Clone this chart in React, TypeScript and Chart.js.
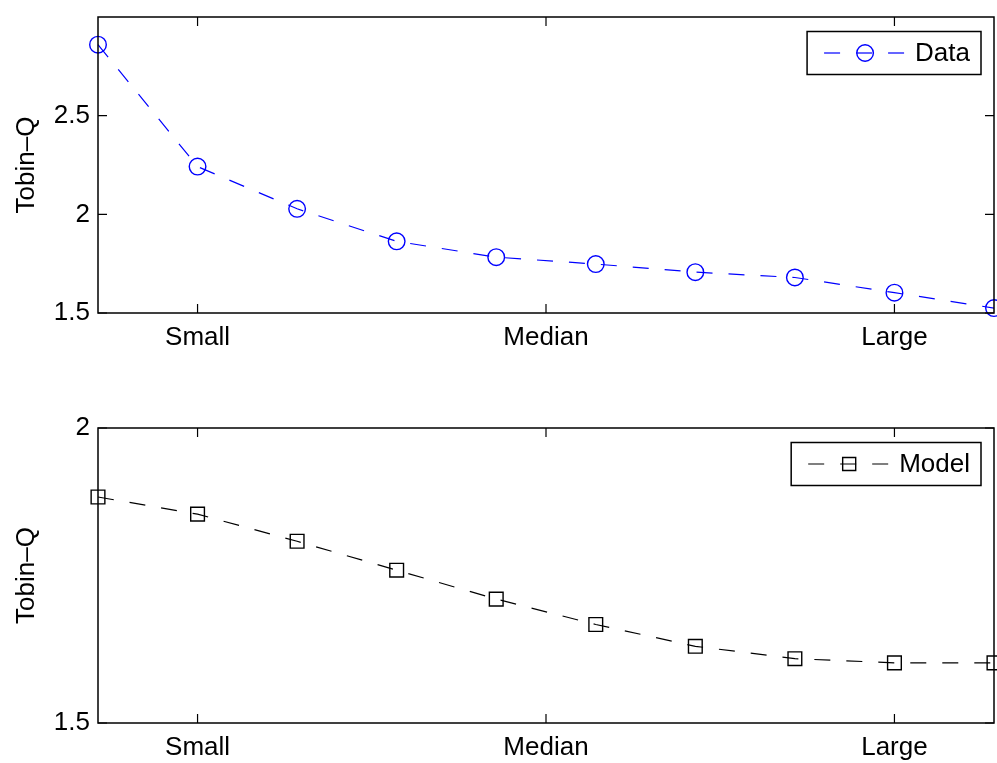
import React, { useEffect, useRef } from 'react';
import { Chart, registerables } from 'chart.js';

Chart.register(...registerables);

const positions = [1, 2, 3, 4, 5, 6, 7, 8, 9, 10];
const dataValues = [2.86, 2.242, 2.028, 1.863, 1.783, 1.748, 1.707, 1.68, 1.603, 1.525];
const modelValues = [1.883, 1.854, 1.808, 1.759, 1.71, 1.667, 1.63, 1.609, 1.602, 1.602];
const xTickValues = [2, 5.5, 9];
const xTickLabels = ['Small', 'Median', 'Large'];
const topYTicks = [1.5, 2, 2.5];
const bottomYTicks = [1.5, 2];
const yTitle = 'Tobin–Q';
const dataLabel = 'Data';
const modelLabel = 'Model';

const FONT = "'Liberation Sans', Arial, Helvetica, sans-serif";
const FONT_SIZE = 26;

const framePlugin = {
  id: 'matlabFrame',
  afterDatasetsDraw(chart: any) {
    const { ctx, chartArea } = chart;
    const xs = chart.scales.x;
    const ys = chart.scales.y;
    const { left, right, top, bottom } = chartArea;
    ctx.save();
    ctx.strokeStyle = '#000';
    ctx.lineWidth = 1.5;
    ctx.setLineDash([]);
    ctx.strokeRect(left, top, right - left, bottom - top);
    ctx.lineWidth = 1.2;
    const tl = 9;
    ctx.beginPath();
    xs.ticks.forEach((t: any) => {
      const px = xs.getPixelForValue(t.value);
      ctx.moveTo(px, bottom);
      ctx.lineTo(px, bottom - tl);
      ctx.moveTo(px, top);
      ctx.lineTo(px, top + tl);
    });
    ys.ticks.forEach((t: any) => {
      const py = ys.getPixelForValue(t.value);
      ctx.moveTo(left, py);
      ctx.lineTo(left + tl, py);
      ctx.moveTo(right, py);
      ctx.lineTo(right - tl, py);
    });
    ctx.stroke();
    ctx.restore();
  },
  afterDraw(chart: any) {
    const { ctx, chartArea } = chart;
    const ds = chart.data.datasets[0];
    ctx.save();
    ctx.font = `${FONT_SIZE}px ${FONT}`;
    const textW = ctx.measureText(ds.label).width;
    const boxRight = chartArea.right - 13;
    const textRight = boxRight - 11;
    const textLeft = textRight - textW;
    const lineRight = textLeft - 9;
    const lineLeft = lineRight - 82;
    const boxLeft = lineLeft - 17;
    const boxTop = chartArea.top + 14.5;
    const boxH = 43;
    const cy = boxTop + boxH / 2;
    ctx.fillStyle = '#fff';
    ctx.fillRect(boxLeft, boxTop, boxRight - boxLeft, boxH);
    ctx.strokeStyle = '#000';
    ctx.lineWidth = 1.5;
    ctx.strokeRect(boxLeft, boxTop, boxRight - boxLeft, boxH);
    ctx.strokeStyle = ds.borderColor;
    ctx.lineWidth = ds.borderWidth;
    ctx.setLineDash(ds.borderDash);
    ctx.beginPath();
    ctx.moveTo(lineLeft, cy);
    ctx.lineTo(lineRight, cy);
    ctx.stroke();
    ctx.setLineDash([]);
    const mx = (lineLeft + lineRight) / 2;
    ctx.lineWidth = ds.pointBorderWidth;
    ctx.beginPath();
    if (ds.pointStyle === 'rect') {
      const s = ds.pointRadius * Math.SQRT1_2 * 0.95;
      ctx.rect(mx - s, cy - s, 2 * s, 2 * s);
    } else {
      ctx.arc(mx, cy, ds.pointRadius, 0, Math.PI * 2);
    }
    ctx.stroke();
    ctx.fillStyle = '#000';
    ctx.textAlign = 'left';
    ctx.textBaseline = 'middle';
    ctx.fillText(ds.label, textLeft, cy + 1);
    ctx.restore();
  },
};

function makeConfig(values: number[], label: string, color: string, pointStyle: string, radius: number, yMin: number, yMax: number, yTicks: number[], xAxisHeight: number, topPad: number): any {
  return {
    type: 'line',
    data: {
      datasets: [
        {
          label,
          data: positions.map((x, i) => ({ x, y: values[i] })),
          borderColor: color,
          backgroundColor: 'rgba(0,0,0,0)',
          borderWidth: 1.2,
          borderDash: [16, 16],
          tension: 0,
          pointStyle,
          pointRadius: radius,
          pointBorderColor: color,
          pointBackgroundColor: 'rgba(0,0,0,0)',
          pointBorderWidth: 1.4,
          clip: false,
          fill: false,
        },
      ],
    },
    options: {
      responsive: false,
      animation: false,
      devicePixelRatio: 1,
      layout: { autoPadding: false, padding: { top: topPad, right: 3, left: 0, bottom: 0 } },
      plugins: { legend: { display: false }, tooltip: { enabled: false }, title: { display: false } },
      scales: {
        x: {
          type: 'linear',
          min: 1,
          max: 10,
          grid: { display: false, drawTicks: false },
          border: { display: false },
          afterBuildTicks: (scale: any) => {
            scale.ticks = xTickValues.map((v) => ({ value: v }));
          },
          afterFit: (scale: any) => {
            scale.height = xAxisHeight;
            scale.paddingLeft = 0;
            scale.paddingRight = 0;
          },
          ticks: {
            autoSkip: false,
            maxRotation: 0,
            padding: 9,
            color: '#000',
            font: { family: FONT, size: FONT_SIZE },
            callback: (v: number) => {
              const i = xTickValues.indexOf(v);
              return i >= 0 ? xTickLabels[i] : '';
            },
          },
        },
        y: {
          type: 'linear',
          min: yMin,
          max: yMax,
          grid: { display: false, drawTicks: false },
          border: { display: false },
          afterBuildTicks: (scale: any) => {
            scale.ticks = yTicks.map((v) => ({ value: v }));
          },
          afterFit: (scale: any) => {
            scale.width = 98;
            scale.paddingTop = 0;
            scale.paddingBottom = 0;
          },
          ticks: {
            autoSkip: false,
            padding: 8,
            color: '#000',
            font: { family: FONT, size: FONT_SIZE },
            callback: (v: number) => String(v),
          },
          title: {
            display: true,
            text: yTitle,
            color: '#000',
            font: { family: FONT, size: FONT_SIZE },
            padding: { top: 11.5, bottom: 0 },
          },
        },
      },
    },
    plugins: [framePlugin],
  };
}

export default function App() {
  const topRef = useRef<HTMLCanvasElement>(null);
  const botRef = useRef<HTMLCanvasElement>(null);

  useEffect(() => {
    const c1 = new Chart(
      topRef.current as HTMLCanvasElement,
      makeConfig(dataValues, dataLabel, 'rgb(0,0,255)', 'circle', 8.3, 1.5, 3, topYTicks, 67, 17)
    );
    const c2 = new Chart(
      botRef.current as HTMLCanvasElement,
      makeConfig(modelValues, modelLabel, '#000000', 'rect', 9.7, 1.5, 2, bottomYTicks, 40, 48)
    );
    return () => {
      c1.destroy();
      c2.destroy();
    };
  }, []);

  return (
    <div style={{ position: 'absolute', left: 0, top: 0, width: 997, height: 763, background: '#fff' }}>
      <canvas ref={topRef} width={997} height={380} style={{ display: 'block', width: 997, height: 380 }} />
      <canvas ref={botRef} width={997} height={383} style={{ display: 'block', width: 997, height: 383 }} />
    </div>
  );
}
